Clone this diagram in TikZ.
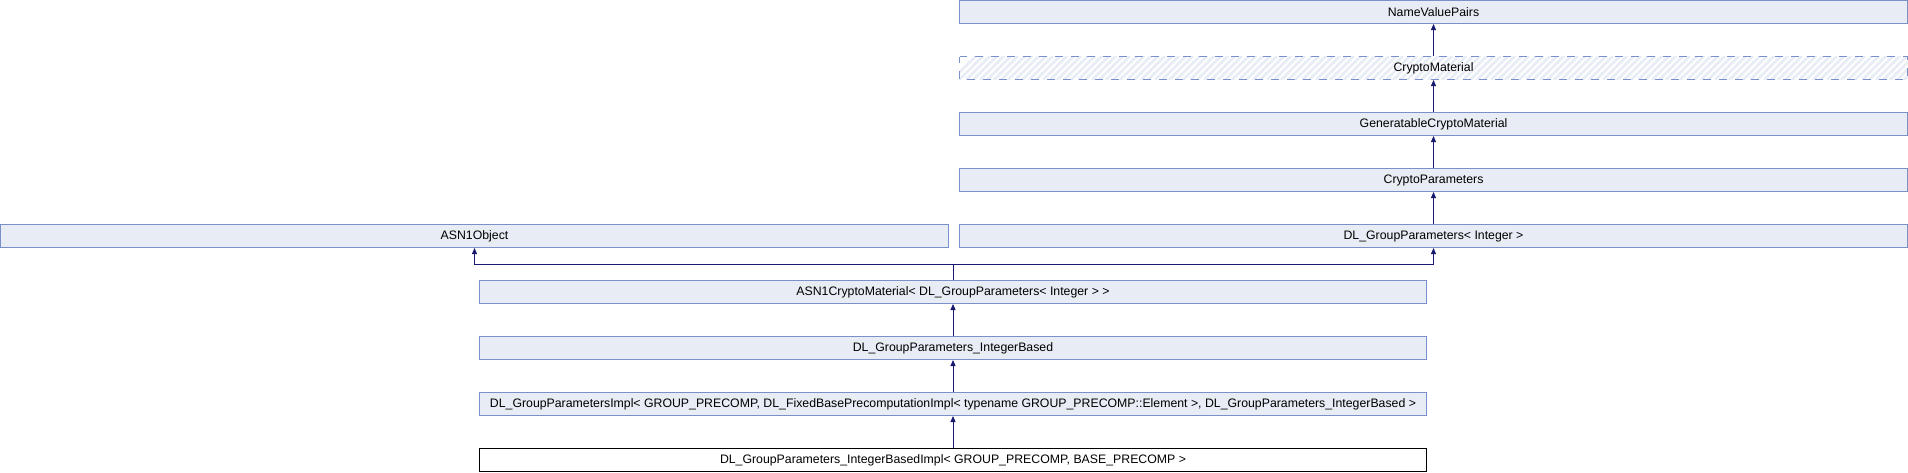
\documentclass[tikz,border=0pt]{standalone}
\usepackage{fontspec}
\setmainfont{Liberation Sans}
\usetikzlibrary{arrows.meta}
\definecolor{boxfill}{HTML}{E8ECF5}
\definecolor{boxline}{HTML}{7B8FCB}
\definecolor{edgecol}{HTML}{191970}
\tikzset{
  cls/.style={draw=boxline, fill=boxfill, line width=1pt, rectangle, inner sep=0pt,
    minimum height=23pt, font=\fontsize{12.3}{14}\selectfont, text=black},
  clsR/.style={cls, minimum width=948pt},
  clsL/.style={cls, minimum width=947pt},
  hatchbox/.style={cls, draw=none, fill=none, minimum width=948pt},
  curbox/.style={cls, draw=black, fill=white, minimum width=947pt},
  edge/.style={draw=edgecol, line width=1pt, -{Triangle[length=6pt,width=5pt]}},
  edgeplain/.style={draw=edgecol, line width=1pt}
}
\begin{document}
\begin{tikzpicture}[x=1pt,y=-1pt]
\useasboundingbox (0,0) rectangle (1908,472);
\fill[white] (0,0) rectangle (1908,472);
% right column
\node[clsR] (nvp) at (1433.5,12) {NameValuePairs};
% hatched CryptoMaterial
\begin{scope}
  \clip (959.5,56.5) rectangle (1907.5,79.5);
  \foreach \i in {0,...,140} {
    \draw[boxfill, line width=2.6pt] ({952+7*\i},80) -- ({952+7*\i+24},56);
  }
\end{scope}
\draw[boxline, line width=1pt, dash pattern=on 8pt off 8pt, dash phase=1.5pt] (959.5,56.5) rectangle (1907.5,79.5);
\node[hatchbox] (cm) at (1433.5,68) {CryptoMaterial};
\node[clsR] (gcm) at (1433.5,124) {GeneratableCryptoMaterial};
\node[clsR] (cp) at (1433.5,180) {CryptoParameters};
\node[clsR] (dlgp) at (1433.5,236) {DL\_GroupParameters< Integer >};
% left
\node[clsR] (asn) at (474.5,236) {ASN1Object};
\node[clsL] (acm) at (953,292) {ASN1CryptoMaterial< DL\_GroupParameters< Integer > >};
\node[clsL] (ib) at (953,348) {DL\_GroupParameters\_IntegerBased};
\node[clsL] (impl) at (953,404) {DL\_GroupParametersImpl< GROUP\_PRECOMP, DL\_FixedBasePrecomputationImpl< typename GROUP\_PRECOMP::Element >, DL\_GroupParameters\_IntegerBased >};
\node[curbox] (ibi) at (953,460) {DL\_GroupParameters\_IntegerBasedImpl< GROUP\_PRECOMP, BASE\_PRECOMP >};
% edges
\draw[edge] (cm.north) -- (nvp.south);
\draw[edge] (gcm.north) -- (cm.south);
\draw[edge] (cp.north) -- (gcm.south);
\draw[edge] (dlgp.north) -- (cp.south);
\coordinate (bus) at (953,264);
\draw[edgeplain] (acm.north) -- (bus);
\draw[edge] (bus) -| (asn.south);
\draw[edge] (bus) -| (dlgp.south);
\draw[edge] (ib.north) -- (acm.south);
\draw[edge] (impl.north) -- (ib.south);
\draw[edge] (ibi.north) -- (impl.south);
\end{tikzpicture}
\end{document}
